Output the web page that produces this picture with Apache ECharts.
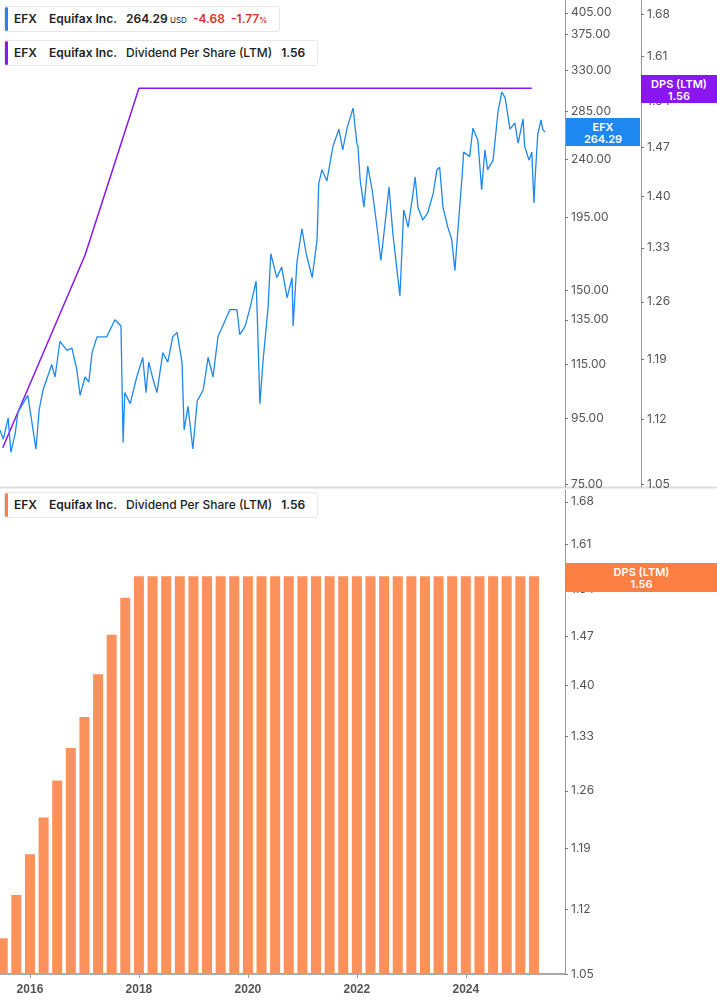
<!DOCTYPE html>
<html><head><meta charset="utf-8">
<script src="https://cdn.jsdelivr.net/npm/echarts@6/dist/echarts.min.js"></script>
<style>
body{margin:0;background:#fff;font-family:Inter,Roboto,sans-serif}
#c{width:717px;height:1005px}
.leg{position:absolute;left:4px;height:24px;line-height:24px;padding:0 12px 0 9px;border:1px solid #e6e6e6;border-radius:3px;background:#fff;font-size:12px;font-weight:600;color:#222;white-space:nowrap}
.leg i{position:absolute;left:0;top:0;bottom:0;width:3px;border-radius:2px}
.tag{position:absolute;color:#fff;font-size:11px;font-weight:600;text-align:center;line-height:12px}
</style></head><body>
<div id="c"></div>
<div class="leg" style="top:6px"><i style="background:#1e88f0"></i>EFX&nbsp;&nbsp;&nbsp; Equifax Inc.&nbsp;&nbsp; 264.29<span style="font-size:8px;font-weight:400"> USD</span>&nbsp;&nbsp;<span style="color:#e0302a">-4.68&nbsp; -1.77<span style="font-size:8px">%</span></span></div>
<div class="leg" style="top:40px"><i style="background:#8a16f0"></i>EFX&nbsp;&nbsp;&nbsp; Equifax Inc.&nbsp;&nbsp; <span style="font-weight:500">Dividend Per Share (LTM)</span>&nbsp;&nbsp; 1.56</div>
<div class="leg" style="top:492px"><i style="background:#fd7f44"></i>EFX&nbsp;&nbsp;&nbsp; Equifax Inc.&nbsp;&nbsp; <span style="font-weight:500">Dividend Per Share (LTM)</span>&nbsp;&nbsp; 1.56</div>
<div class="tag" style="left:566px;top:118px;width:74px;height:28px;padding-top:3px;box-sizing:border-box;background:#1e88f0">EFX<br>264.29</div>
<div class="tag" style="left:641px;top:75px;width:76px;height:28px;padding-top:3px;box-sizing:border-box;background:#8a16f0">DPS (LTM)<br>1.56</div>
<div class="tag" style="left:566px;top:563px;width:151px;height:29px;padding-top:3px;box-sizing:border-box;background:#fd7f44">DPS (LTM)<br>1.56</div>
<script>
var priceYears = [2015.45,2015.51,2015.60,2015.65,2015.73,2015.78,2015.96,2016.04,2016.11,2016.17,2016.24,2016.40,2016.46,2016.55,2016.68,2016.77,2016.86,2016.92,2017.01,2017.08,2017.14,2017.23,2017.41,2017.56,2017.67,2017.71,2017.74,2017.84,2017.96,2018.07,2018.13,2018.18,2018.26,2018.33,2018.44,2018.53,2018.62,2018.70,2018.79,2018.83,2018.90,2018.99,2019.07,2019.18,2019.27,2019.36,2019.45,2019.52,2019.67,2019.80,2019.85,2019.95,2020.04,2020.15,2020.17,2020.22,2020.28,2020.37,2020.42,2020.53,2020.62,2020.72,2020.81,2020.83,2020.90,2020.99,2021.07,2021.18,2021.27,2021.30,2021.36,2021.45,2021.56,2021.67,2021.74,2021.82,2021.93,2022.00,2022.02,2022.06,2022.13,2022.20,2022.28,2022.37,2022.44,2022.51,2022.59,2022.66,2022.73,2022.79,2022.86,2022.94,2023.03,2023.07,2023.12,2023.21,2023.30,2023.40,2023.47,2023.52,2023.58,2023.67,2023.74,2023.80,2023.85,2023.93,2023.96,2024.07,2024.13,2024.22,2024.29,2024.35,2024.40,2024.50,2024.59,2024.66,2024.72,2024.81,2024.90,2024.96,2025.05,2025.08,2025.16,2025.21,2025.25,2025.27,2025.32,2025.38,2025.41,2025.45];
var priceValues = [91,88,95,84,90,97,103,93,85,98,105,115,110,125,121,122,113,103,110,108,120,127,127,135,132,87,104,100,110,118,104,116,109,104,120,116,127,129,116,91,99,85,101,105,118,110,127,131,140,140,128,132,141,155,139,100,117,141,171,157,163,146,157,132,166,187,171,157,180,220,231,222,251,267,248,268,288,254,251,223,202,234,215,188,167,188,217,184,163,147,200,188,212,225,202,193,198,212,231,233,202,188,180,161,184,225,246,242,268,257,215,248,231,239,284,305,299,267,273,254,277,251,239,246,205,223,262,276,267,264.29];
var dpsLineYears = [2015.50, 2017.01, 2018.00, 2025.21];
var dpsLineValues = [1.089, 1.32, 1.56, 1.56];
var barYears = [2015.50,2015.75,2016.00,2016.25,2016.50,2016.75,2017.00,2017.25,2017.50,2017.75,2018.00,2018.25,2018.50,2018.75,2019.00,2019.25,2019.50,2019.75,2020.00,2020.25,2020.50,2020.75,2021.00,2021.25,2021.50,2021.75,2022.00,2022.25,2022.50,2022.75,2023.00,2023.25,2023.50,2023.75,2024.00,2024.25,2024.50,2024.75,2025.00,2025.25];
var barValues = [1.088,1.136,1.183,1.227,1.273,1.315,1.356,1.415,1.472,1.527,1.56,1.56,1.56,1.56,1.56,1.56,1.56,1.56,1.56,1.56,1.56,1.56,1.56,1.56,1.56,1.56,1.56,1.56,1.56,1.56,1.56,1.56,1.56,1.56,1.56,1.56,1.56,1.56,1.56,1.56];
var priceTicks = [75,95,115,135,150,195,240,285,330,375,405];
var dpsTicks = [1.05,1.12,1.19,1.26,1.33,1.40,1.47,1.54,1.61,1.68];
var yearTicks = [2016,2018,2020,2022,2024];

function zip(a, b) { return a.map(function (v, i) { return [v, b[i]]; }); }

var chart = echarts.init(document.getElementById('c'));
var lbl = { color: '#555', fontSize: 12, fontFamily: 'Inter' };
var axLine = { show: true, lineStyle: { color: '#999' } };
var tick = { show: true, length: 3, inside: false, lineStyle: { color: '#777' } };
var xBase = { type: 'value', min: 2015.45, max: 2025.82, splitLine: { show: false } };

chart.setOption({
    animation: false,
    grid: [
        { left: 0, top: 0, width: 565, height: 487 },
        { left: 0, top: 490, width: 565, height: 484 }
    ],
    xAxis: [
        Object.assign({ gridIndex: 0, axisLine: { show: false }, axisTick: { show: false }, axisLabel: { show: false } }, xBase),
        Object.assign({ gridIndex: 1, axisLine: { show: true, lineStyle: { color: '#aaa', width: 2 } },
            axisTick: { show: true, customValues: yearTicks, length: 4, lineStyle: { color: '#999' } },
            axisLabel: { customValues: yearTicks, color: '#555', fontSize: 12, fontWeight: 'bold', margin: 10,
                formatter: function (v) { return String(Math.round(v)); } } }, xBase)
    ],
    yAxis: [
        { type: 'log', gridIndex: 0, position: 'right', min: 74.2, max: 424, splitLine: { show: false }, axisLine: axLine,
            axisTick: Object.assign({ customValues: priceTicks }, tick),
            axisLabel: Object.assign({ customValues: priceTicks, margin: 6, formatter: function (v) { return v.toFixed(2); } }, lbl) },
        { type: 'log', gridIndex: 0, position: 'right', offset: 76, min: 1.047, max: 1.704, splitLine: { show: false }, axisLine: axLine,
            axisTick: Object.assign({ customValues: dpsTicks }, tick),
            axisLabel: Object.assign({ customValues: dpsTicks, margin: 6, formatter: function (v) { return v.toFixed(2); } }, lbl) },
        { type: 'log', gridIndex: 1, position: 'right', min: 1.05, max: 1.70, splitLine: { show: false }, axisLine: axLine,
            axisTick: Object.assign({ customValues: dpsTicks }, tick),
            axisLabel: Object.assign({ customValues: dpsTicks, margin: 6, formatter: function (v) { return v.toFixed(2); } }, lbl) }
    ],
    series: [
        { type: 'line', xAxisIndex: 0, yAxisIndex: 1, data: zip(dpsLineYears, dpsLineValues), symbol: 'none',
            lineStyle: { color: '#8a16f0', width: 1.5 } },
        { type: 'line', xAxisIndex: 0, yAxisIndex: 0, data: zip(priceYears, priceValues), symbol: 'none',
            lineStyle: { color: '#1e88f0', width: 1.3 } },
        { type: 'bar', xAxisIndex: 1, yAxisIndex: 2, data: zip(barYears, barValues), barWidth: 10,
            itemStyle: { color: '#fd915b' } }
    ],
    graphic: [
        { type: 'line', shape: { x1: 0, y1: 487.5, x2: 717, y2: 487.5 }, style: { stroke: '#ddd', lineWidth: 2 } }
    ]
});
</script>
</body></html>
